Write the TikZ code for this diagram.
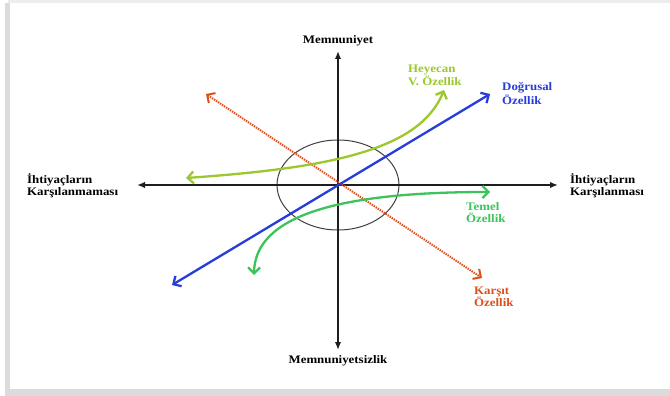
\documentclass[tikz,border=0pt]{standalone}
\usepackage{fontspec}
\setmainfont{Liberation Serif}[FakeStretch=1.12]
\usetikzlibrary{arrows.meta,positioning}
\definecolor{colAxis}{RGB}{30,30,30}
\definecolor{colLin}{RGB}{40,60,220}
\definecolor{colExc}{RGB}{155,200,45}
\definecolor{colBas}{RGB}{60,195,90}
\definecolor{colRev}{RGB}{220,80,30}

\begin{document}
\begin{tikzpicture}[
  x=1pt,y=-1pt,
  every node/.style={font=\fontsize{11.5}{12}\selectfont\bfseries,inner sep=0pt},
  lbl/.style={align=left,anchor=west},
  axis/.style={line width=1.8pt,draw=colAxis,{Latex[length=8pt,width=6.5pt]}-{Latex[length=8pt,width=6.5pt]}},
  attr/.style={line width=2.3pt,{Straight Barb[length=6pt,width=12pt]}-{Straight Barb[length=6pt,width=12pt]}}
]
% frame
\fill[white] (0,0) rectangle (670,396);
\fill[black!7] (8,0) rectangle (670,3);
\fill[black!14] (5,3) rectangle (670,396);
\fill[white] (10,3) rectangle (670,389);
\useasboundingbox (0,0) rectangle (670,396);

% axes
\coordinate (o) at (338,185);
\node (top) at (338,41) {Memnuniyet};
\node (bot) at (338,361) {Memnuniyetsizlik};
\node[lbl] (left) at (27,185.5) {İhtiyaçların\\Karşılanmaması};
\node[lbl] (right) at (570,185.5) {İhtiyaçların\\Karşılanması};
\coordinate (yp) at (338,51);
\coordinate (ym) at (338,350);
\coordinate (xm) at (137,185);
\coordinate (xp) at (558,185);
\draw[line width=1pt,black!75] (o) ellipse [x radius=61pt,y radius=45pt];
\draw[axis] (xm) -- (xp);
\draw[axis] (ym) -- (yp);

% attributes
\coordinate (rev1) at (206,94);
\coordinate (rev2) at (482,278);
\draw[attr,colRev,line width=2pt,dash pattern=on 1.4pt off 1pt] (rev1) -- (rev2);
\node[lbl,text=colRev] (revlbl) at (474,297) {Karşıt\\Özellik};

\coordinate (exc1) at (186,178);
\coordinate (exc2) at (444,90);
\draw[attr,colExc] (exc1) .. controls (330,168) and (420,150) .. (exc2);
\node[lbl,text=colExc] (exclbl) at (408,75) {Heyecan\\V. Özellik};

\coordinate (bas1) at (254,275);
\coordinate (bas2) at (490,192);
\draw[attr,colBas] (bas1) .. controls (255,215) and (340,192) .. (bas2);
\node[lbl,text=colBas] (baslbl) at (466,212.5) {Temel\\Özellik};

\coordinate (lin1) at (172,285);
\coordinate (lin2) at (490,94);
\draw[attr,colLin] (lin1) -- (lin2);
\node[lbl,text=colLin] (linlbl) at (502,93.5) {Doğrusal\\Özellik};
\end{tikzpicture}
\end{document}
